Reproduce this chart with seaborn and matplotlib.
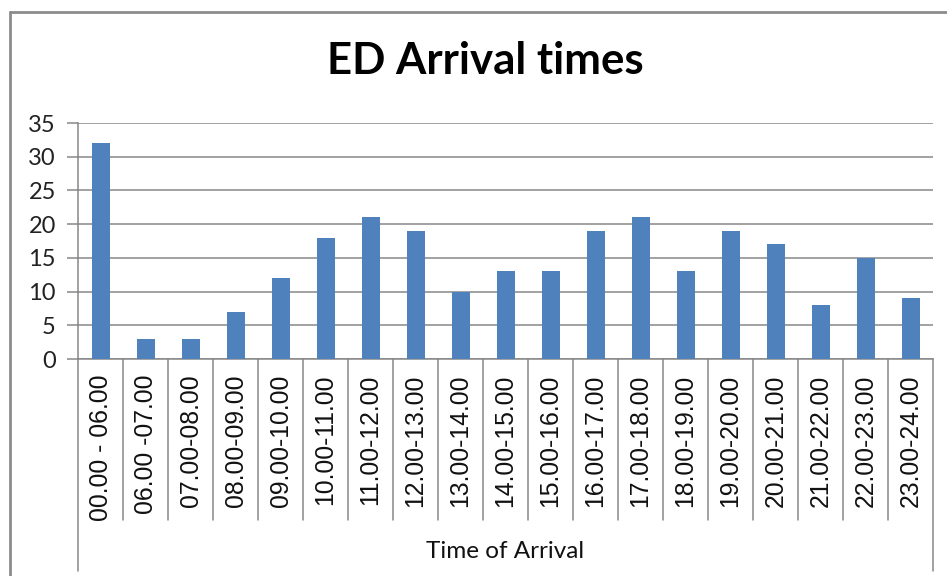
import matplotlib
matplotlib.use("Agg")
import matplotlib.pyplot as plt
from matplotlib.lines import Line2D
import matplotlib.transforms as mtransforms
import seaborn as sns
import pandas as pd

# Arrival counts per time band
time_bands = [
    "00.00 - 06.00", "06.00 -07.00", "07.00-08.00", "08.00-09.00",
    "09.00-10.00", "10.00-11.00", "11.00-12.00", "12.00-13.00",
    "13.00-14.00", "14.00-15.00", "15.00-16.00", "16.00-17.00",
    "17.00-18.00", "18.00-19.00", "19.00-20.00", "20.00-21.00",
    "21.00-22.00", "22.00-23.00", "23.00-24.00",
]
arrivals = [32, 3, 3, 7, 12, 18, 21, 19, 10, 13, 13, 19, 21, 13, 19, 17, 8, 15, 9]
y_ticks = [0, 5, 10, 15, 20, 25, 30, 35]

df = pd.DataFrame({"band": time_bands, "count": arrivals})

sns.set_theme(style="white")
plt.rcParams["font.family"] = ["Liberation Sans", "DejaVu Sans"]

W, H = 947, 576
fig = plt.figure(figsize=(W / 100, H / 100), dpi=100)
fig.patch.set_facecolor("white")

# plot area in pixel coordinates
x0, x1, ytop, ybot = 78, 933, 123, 359
ax = fig.add_axes([x0 / W, 1 - ybot / H, (x1 - x0) / W, (ybot - ytop) / H])

grid_c = "#878787"
sns.barplot(data=df, x="band", y="count", color="#4F81BD", width=0.4,
            saturation=1, linewidth=0, ax=ax, zorder=3)

ax.set_ylim(0, 35)
ax.set_xlim(-0.5, len(time_bands) - 0.5)
ax.set_yticks(y_ticks)
ax.yaxis.grid(True, color=grid_c, linewidth=1.1, zorder=0)
ax.xaxis.grid(False)
for s in ("top", "right"):
    ax.spines[s].set_visible(False)
for s in ("left", "bottom"):
    ax.spines[s].set_color(grid_c)
    ax.spines[s].set_linewidth(1.1)

ax.tick_params(axis="y", which="major", left=True, length=8, width=1.1,
               color=grid_c, pad=8, labelsize=17, labelcolor="#222222")
for lbl in ax.get_yticklabels():
    lbl.set_family(["Lato", "DejaVu Sans"])
ax.tick_params(axis="x", bottom=False, pad=5, labelsize=17.8, labelcolor="#111111")
ax.set_xticks(range(len(time_bands)))
ax.set_xticklabels(time_bands, rotation=90, va="top")
ax.set_xlabel("")
ax.set_ylabel("")

# category separators below the axis
trans = mtransforms.blended_transform_factory(ax.transData, ax.transAxes)
ah = ybot - ytop
inner = -(520 - ybot) / ah
outer = -(571 - ybot) / ah
for i in range(1, len(time_bands)):
    ax.add_line(Line2D([i - 0.5, i - 0.5], [0, inner], transform=trans,
                       color=grid_c, lw=1.1, clip_on=False))
for xe in (-0.5, len(time_bands) - 0.5):
    ax.add_line(Line2D([xe, xe], [0, outer], transform=trans,
                       color=grid_c, lw=1.1, clip_on=False))

# chart title and axis title
fig.text(485 / W, 1 - 61 / H, "ED Arrival times", ha="center", va="center",
         fontsize=31.5, fontweight="bold", family=["Lato", "DejaVu Sans"], color="black")
fig.text(505 / W, 1 - 551 / H, "Time of Arrival", ha="center", va="center",
         fontsize=17.5, family=["Lato", "DejaVu Sans"], color="#111111")

# chart area border
border_c = "#8c8c8c"
fig.add_artist(Line2D([10 / W, 10 / W], [1 - 12 / H, 0], transform=fig.transFigure,
                      color=border_c, lw=2))
fig.add_artist(Line2D([10 / W, 1], [1 - 12 / H, 1 - 12 / H], transform=fig.transFigure,
                      color=border_c, lw=2))

fig.savefig("out.png", dpi=100)
